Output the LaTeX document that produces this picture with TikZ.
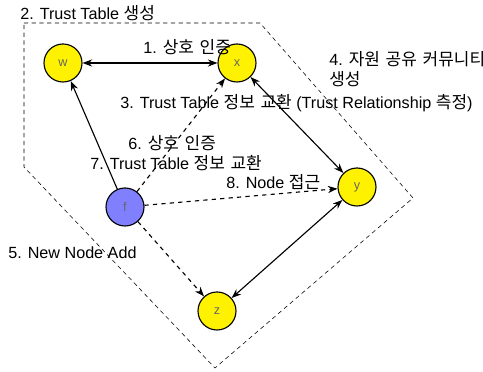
\documentclass[tikz,border=0pt]{standalone}
\usepackage{fontspec}
\setmainfont{Liberation Sans}
\newfontfamily\kr[Scale=1.05, WordSpace=1.5]{Noto Sans CJK KR}
\usetikzlibrary{arrows.meta}

\tikzset{
  peer/.style={circle, draw, thick, fill=yellow, minimum size=0.95cm, inner sep=0pt, text=gray!80!black, font=\small},
  newpeer/.style={peer, fill=blue!50!white},
  link/.style={thick, {Stealth[length=2.4mm,width=1.8mm]}-{Stealth[length=2.4mm,width=1.8mm]}},
  oneway/.style={thick, -{Stealth[length=2.4mm,width=1.8mm]}},
  probe/.style={oneway, dashed},
  step label/.style={anchor=west, inner sep=0pt, font=\fontsize{11.5}{14.5}\selectfont}
}

\begin{document}
\begin{tikzpicture}[x=0.025cm, y=-0.025cm]
    \useasboundingbox (0,0) rectangle (483,372);

    % community boundary
    \draw[dashed, dash pattern=on 3pt off 2.5pt] (24,23) -- (260,23) -- (413,198) -- (215,368) -- (24,167) -- cycle;

    % peers
    \node[peer] (w) at (63,63) {w};
    \node[peer] (x) at (237,63) {x};
    \node[newpeer] (f) at (125,207) {f};
    \node[peer] (y) at (357,187) {y};
    \node[peer] (z) at (217,311) {z};

    % trusted links
    \draw[link] (w) -- (x);
    \draw[link] (x) -- (y);
    \draw[link] (y) -- (z);
    \draw[oneway] (f) -- (w);

    % new node requests
    \foreach \t in {x,y,z} {
        \draw[probe] (f) -- (\t);
    }

    % step texts
    \node[step label] (s2) at (20,13) {2. Trust Table {\kr 생성}};
    \node[step label] (s1) at (143,47) {1. {\kr 상호 인증}};
    \node[step label] (s3) at (120,103) {3. Trust Table {\kr 정보 교환} (Trust Relationship {\kr 측정})};
    \node[step label, anchor=north west, align=left] (s4) at (329,51) {4. {\kr 자원 공유 커뮤니티}\\{\kr 생성}};
    \node[step label] (s6) at (128,143) {6. {\kr 상호 인증}};
    \node[step label] (s7) at (90,163) {7. Trust Table {\kr 정보 교환}};
    \node[step label] (s8) at (226,182) {8. Node {\kr 접근}};
    \node[step label] (s5) at (8,253) {5. New Node Add};
\end{tikzpicture}
\end{document}
